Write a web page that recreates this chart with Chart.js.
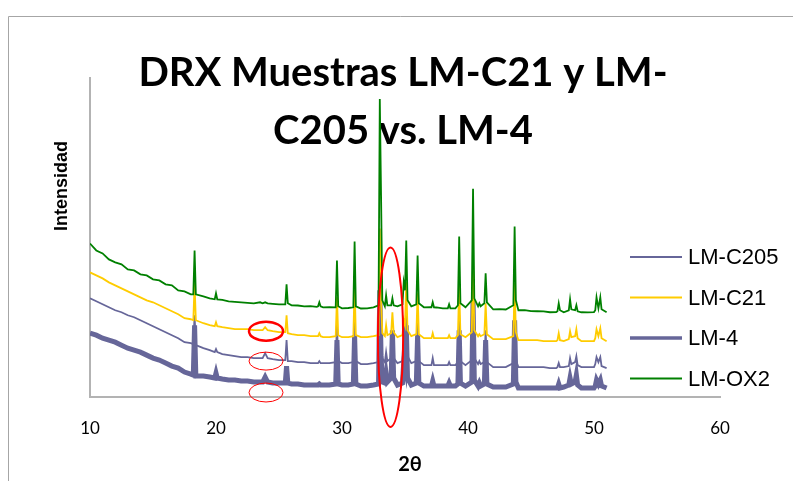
<!DOCTYPE html>
<html>
<head>
<meta charset="utf-8">
<script src="https://cdn.jsdelivr.net/npm/chart.js@4.4.1/dist/chart.umd.min.js"></script>
<style>
  html, body { margin: 0; padding: 0; background: #fff; }
</style>
</head>
<body>
<canvas id="drx" width="793" height="481"></canvas>
<script>
// 2θ positions shared by all four patterns (one row per stretch of the scan)
const twoTheta = [
  10, 10.5, 11, 11.5, 12, 12.5, 13, 13.5, 14, 14.5, 15, 15.5, 16, 16.5, 17, 17.5, 18,
  18.2, 18.3, 18.4, 19, 19.5,
  19.9, 20.0, 20.1, 20.5, 21, 21.5, 22, 22.5, 23, 23.5,
  23.7, 23.9, 24.1, 24.5, 25,
  25.5, 25.6, 25.7, 26, 26.5, 27, 27.5, 28,
  28.1, 28.2, 28.3, 28.5, 29,
  29.5, 29.6, 29.7, 30, 30.5,
  30.9, 31.0, 31.1, 31.5, 32, 32.5,
  32.9, 33.0, 33.1, 33.2,
  33.4, 33.5, 33.6, 33.9, 34.0, 34.1, 34.4,
  34.8, 34.9, 35.0, 35.1, 35.2, 35.5,
  35.9, 36.0, 36.1, 36.5, 37,
  37.1, 37.2, 37.3, 37.5, 38,
  38.4, 38.5, 38.6, 39,
  39.2, 39.3, 39.4, 39.8,
  40.3, 40.4, 40.5, 40.8, 40.9, 41.0,
  41.3, 41.4, 41.5, 42, 42.5, 43,
  43.6, 43.7, 43.8, 44, 44.5, 45, 45.5, 46, 46.5, 47,
  47.1, 47.2, 47.3, 47.6,
  48.0, 48.1, 48.2, 48.5, 48.6, 48.7,
  49, 49.5, 50, 50.1, 50.2, 50.35, 50.5, 50.6, 51
];

// intensities (offset stacks, arbitrary counts)
const lmOX2 = [
  1540, 1470, 1440, 1380, 1350, 1330, 1280, 1270, 1230, 1220, 1180, 1170, 1130, 1120, 1070, 1060, 1030,
  1030, 1470, 1030, 1010, 990,
  980, 1040, 980, 975, 960, 955, 950, 945, 940, 950,
  940, 950, 940, 935, 930,
  930, 1130, 940, 920, 918, 910, 912, 905,
  910, 950, 910, 900, 902,
  900, 1370, 910, 890, 893,
  900, 1560, 910, 888, 890, 900,
  920, 2990, 2020, 970,
  910, 1020, 920, 920, 990, 920, 910,
  930, 1150, 1070, 1570, 970, 910,
  930, 1420, 940, 900, 902,
  900, 950, 900, 898, 890,
  890, 930, 890, 890,
  920, 1610, 940, 900,
  970, 2090, 990, 910, 940, 910,
  940, 1240, 950, 880, 882, 878,
  920, 1710, 970, 870, 872, 862, 860, 858, 850, 852,
  860, 940, 870, 850,
  870, 980, 880, 870, 920, 860,
  850, 848, 852, 870, 1000, 890, 1000, 880, 850
];
const lmC21 = [
  1250, 1220, 1190, 1150, 1120, 1090, 1060, 1030, 1000, 970, 950, 920, 890, 860, 830, 790, 780,
  770, 1140, 770, 740, 720,
  710, 750, 710, 700, 690, 680, 680, 680, 670, 670,
  670, 700, 670, 660, 650,
  650, 820, 640, 630, 620, 620, 610, 610,
  610, 640, 610, 600, 600,
  610, 1000, 620, 600, 600,
  610, 1120, 620, 600, 600, 610,
  620, 1690, 970, 640,
  610, 720, 620, 640, 850, 650, 600,
  620, 770, 720, 1150, 670, 610,
  630, 1040, 630, 590, 590,
  590, 640, 590, 590, 590,
  590, 620, 590, 590,
  620, 1120, 630, 600,
  650, 1340, 670, 610, 630, 610,
  630, 940, 630, 580, 580, 580,
  610, 1140, 650, 570, 570, 570, 570, 560, 560, 560,
  570, 640, 570, 560,
  580, 660, 600, 610, 680, 590,
  560, 560, 560, 590, 680, 610, 690, 590, 560
];
const lmC205 = [
  990, 960, 930, 900, 870, 850, 820, 800, 770, 740, 710, 680, 650, 620, 590, 550, 540,
  530, 820, 520, 490, 470,
  450, 480, 450, 430, 420, 410, 400, 400, 390, 390,
  390, 440, 390, 380, 370,
  370, 570, 360, 360, 350, 350, 340, 340,
  340, 360, 340, 340, 340,
  350, 740, 360, 340, 340,
  350, 850, 360, 330, 330, 340,
  350, 1420, 770, 390,
  350, 450, 360, 390, 650, 390, 340,
  360, 520, 470, 820, 410, 340,
  360, 770, 360, 320, 320,
  320, 390, 320, 320, 320,
  320, 350, 320, 320,
  350, 820, 360, 320,
  370, 1020, 390, 330, 360, 330,
  350, 670, 350, 300, 300, 300,
  340, 870, 370, 300, 300, 300, 300, 300, 290, 290,
  300, 340, 300, 300,
  310, 390, 330, 350, 410, 320,
  300, 300, 300, 330, 400, 350, 400, 310, 290
];
const lm4 = [
  640, 620, 590, 570, 550, 520, 490, 470, 450, 420, 390, 370, 340, 310, 290, 250, 230,
  220, 720, 210, 210, 200,
  190, 240, 190, 180, 170, 170, 160, 160, 150, 150,
  150, 200, 150, 140, 140,
  140, 310, 140, 130, 130, 120, 120, 120,
  120, 130, 120, 120, 120,
  130, 570, 130, 120, 120,
  130, 620, 130, 110, 110, 120,
  130, 1070, 420, 150,
  140, 240, 150, 190, 670, 190, 120,
  140, 350, 290, 720, 190, 120,
  140, 620, 140, 110, 110,
  110, 160, 110, 110, 110,
  110, 140, 110, 110,
  130, 670, 140, 110,
  150, 970, 170, 110, 140, 110,
  130, 570, 130, 100, 100, 100,
  130, 770, 150, 90, 90, 90, 90, 90, 90, 90,
  90, 130, 90, 100,
  120, 190, 130, 150, 220, 120,
  90, 90, 90, 110, 170, 130, 170, 110, 90
];

const seriesNames = ['LM-C205', 'LM-C21', 'LM-4', 'LM-OX2'];
const xTicks = [10, 20, 30, 40, 50, 60];
const titleLines = ['DRX Muestras LM-C21 y LM-', 'C205 vs. LM-4'];

// red marks: [2θ centre, intensity centre, 2θ half-width, intensity half-height, line width]
const marks = [
  [23.97, 660, 1.35, 95, 2.5],
  [23.97, 360, 1.35, 90, 1],
  [23.97, 45, 1.35, 95, 1],
  [33.85, 600, 1.0, 900, 2]
];

const pts = ys => twoTheta.map((t, i) => ({ x: t, y: ys[i] }));

function trace(label, ys, color, width, order) {
  return {
    label, data: pts(ys), borderColor: color, backgroundColor: color,
    borderWidth: width, pointRadius: 0, tension: 0, order
  };
}

const drxDecor = {
  id: 'drxDecor',
  beforeDraw(chart) {
    const ctx = chart.ctx;
    ctx.save();
    ctx.strokeStyle = '#a6a6a6';
    ctx.lineWidth = 1;
    ctx.beginPath();
    ctx.moveTo(8.5, 481); ctx.lineTo(8.5, 16.5); ctx.lineTo(793, 16.5);
    ctx.stroke();
    ctx.restore();
  },
  beforeDatasetsDraw(chart) {
    const ctx = chart.ctx;
    ctx.save();
    ctx.fillStyle = '#000';
    ctx.font = 'bold 40px Lato';
    ctx.textAlign = 'center';
    ctx.textBaseline = 'alphabetic';
    ctx.fillText(titleLines[0], 403, 86);
    ctx.fillText(titleLines[1], 403, 144);
    ctx.restore();
  },
  afterDraw(chart) {
    const ctx = chart.ctx, xs = chart.scales.x, ys = chart.scales.y;
    ctx.save();
    // highlighted regions
    ctx.strokeStyle = '#ff0000';
    marks.forEach(([cx, cy, rx, ry, w]) => {
      const px = xs.getPixelForValue(cx), py = ys.getPixelForValue(cy);
      const prx = Math.abs(xs.getPixelForValue(cx + rx) - px);
      const pry = Math.abs(ys.getPixelForValue(cy + ry) - py);
      ctx.lineWidth = w;
      ctx.beginPath();
      ctx.ellipse(px, py, prx, pry, 0, 0, Math.PI * 2);
      ctx.stroke();
    });
    // legend
    ctx.font = '22px "Liberation Sans"';
    ctx.textAlign = 'left';
    ctx.textBaseline = 'middle';
    seriesNames.forEach((name, i) => {
      const ds = chart.data.datasets.find(d => d.label === name);
      const y = 257 + i * 40.5;
      ctx.strokeStyle = ds.borderColor;
      ctx.lineWidth = Math.min(ds.borderWidth, 3.5);
      ctx.beginPath(); ctx.moveTo(630, y); ctx.lineTo(682, y); ctx.stroke();
      ctx.fillStyle = '#000';
      ctx.fillText(name, 688, y + 1);
    });
    // axis titles
    ctx.font = 'bold 20px Lato';
    ctx.textAlign = 'center';
    ctx.fillText('2θ', 410, 465);
    ctx.translate(62, 186);
    ctx.rotate(-Math.PI / 2);
    ctx.font = 'bold 18px "Liberation Sans"';
    ctx.fillText('Intensidad', 0, 0);
    ctx.restore();
  }
};

new Chart(document.getElementById('drx'), {
  type: 'line',
  data: {
    datasets: [
      trace(seriesNames[0], lmC205, '#666699', 1.8, 2),
      trace(seriesNames[1], lmC21, '#ffcc00', 1.8, 1),
      trace(seriesNames[2], lm4, '#666699', 5, 3),
      trace(seriesNames[3], lmOX2, '#008000', 1.8, 0)
    ]
  },
  options: {
    responsive: false,
    animation: false,
    layout: { padding: { left: 0, right: 73, top: 78, bottom: 0 } },
    plugins: { legend: { display: false }, tooltip: { enabled: false } },
    scales: {
      x: {
        type: 'linear', min: xTicks[0], max: xTicks[xTicks.length - 1],
        afterBuildTicks: s => { s.ticks = xTicks.map(v => ({ value: v })); },
        afterFit: s => { s.height = 84; },
        grid: { display: false, drawTicks: false },
        border: { color: '#b3b3b3', width: 2 },
        ticks: { color: '#000', font: { family: 'Lato', size: 17 }, padding: 21, maxRotation: 0 }
      },
      y: {
        min: 0, max: 3200,
        afterFit: s => { s.width = 90; },
        grid: { display: false, drawTicks: false },
        border: { color: '#b3b3b3', width: 2 },
        ticks: { display: false }
      }
    }
  },
  plugins: [drxDecor]
});
</script>
</body>
</html>
